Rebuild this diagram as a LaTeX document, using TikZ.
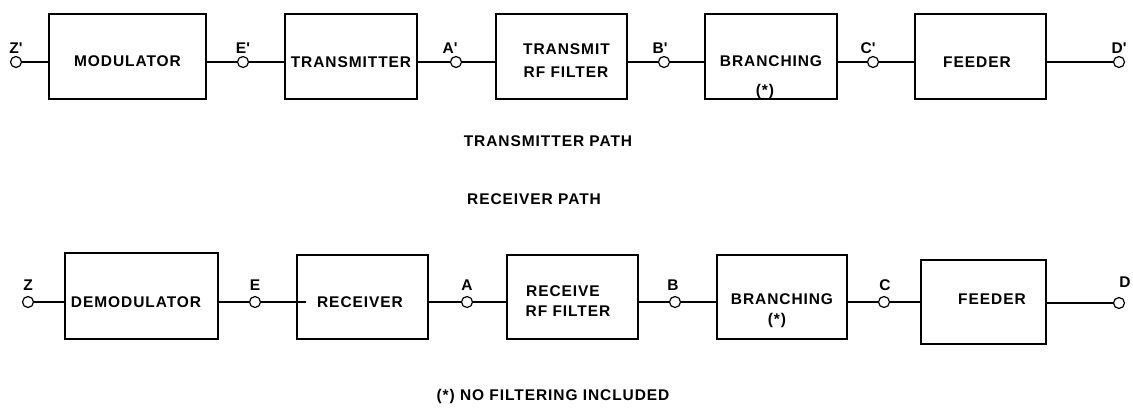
\documentclass[tikz,border=0pt]{standalone}
\usepackage{fontspec}
\setmainfont{Liberation Sans}[LetterSpace=6]
\newcommand{\apos}{\textquotesingle}
\begin{document}
\begin{tikzpicture}[x=1pt,y=-1pt,line width=1.2pt,
  blk/.style={draw,line width=1.2pt,inner sep=0pt},
  port/.style={draw,circle,fill=white,inner sep=0pt,minimum size=11pt,line width=1.2pt},
  txt/.style={inner sep=0pt,font=\fontsize{15.5}{19}\selectfont\bfseries},
  wire/.style={draw,line width=1.2pt}]
\useasboundingbox (0,0) rectangle (1133,410);
% ---------- transmitter path ----------
\node[blk,minimum width=157pt,minimum height=85pt] (mod) at (127.5,56.5) {};
\node[blk,minimum width=132pt,minimum height=85pt] (tx)  at (351,56.5) {};
\node[blk,minimum width=131pt,minimum height=85pt] (trf) at (561.5,56.5) {};
\node[blk,minimum width=132pt,minimum height=85pt] (br)  at (771,56.5) {};
\node[blk,minimum width=131pt,minimum height=85pt] (fd)  at (980.5,56.5) {};
\node[txt] (tmod) at (127.5,61.5) {MODULATOR};
\node[txt] (ttx)  at (351,62) {TRANSMITTER};
\node[txt] (ttrf1) at (566.5,49) {TRANSMIT};
\node[txt] (ttrf2) at (566,72.5) {RF FILTER};
\node[txt] (tbr)  at (771,61) {BRANCHING};
\node[txt] (tbrs) at (765,91) {(*)};
\node[txt] (tfd)  at (977,62) {FEEDER};
\node[port] (zp) at (16,62) {};
\node[port] (ep) at (243,62) {};
\node[port] (ap) at (456,62) {};
\node[port] (bp) at (664,62) {};
\node[port] (cp) at (873,62) {};
\node[port] (dp) at (1119,62) {};
\node[txt] (lzp) at (16,48) {Z\apos};
\node[txt] (lep) at (243,48) {E\apos};
\node[txt] (lap) at (450,48) {A\apos};
\node[txt] (lbp) at (660,48) {B\apos};
\node[txt] (lcp) at (868,48) {C\apos};
\node[txt] (ldp) at (1119,48) {D\apos};
\draw[wire] (zp) -- (zp -| mod.west);
\draw[wire] (mod.east |- ep) -- (ep);
\draw[wire] (ep) -- (ep -| tx.west);
\draw[wire] (tx.east |- ap) -- (ap);
\draw[wire] (ap) -- (ap -| trf.west);
\draw[wire] (trf.east |- bp) -- (bp);
\draw[wire] (bp) -- (bp -| br.west);
\draw[wire] (br.east |- cp) -- (cp);
\draw[wire] (cp) -- (cp -| fd.west);
\draw[wire] (fd.east |- dp) -- (dp);
% ---------- middle texts ----------
\node[txt] (tpath) at (548,141.5) {TRANSMITTER PATH};
\node[txt] (rpath) at (534,199.5) {RECEIVER PATH};
% ---------- receiver path ----------
\node[blk,minimum width=153pt,minimum height=86pt] (dem) at (141.5,296) {};
\node[blk,minimum width=131pt,minimum height=84pt] (rx)  at (362.5,297) {};
\node[blk,minimum width=131pt,minimum height=84pt] (rrf) at (572.5,297) {};
\node[blk,minimum width=130pt,minimum height=84pt] (br2) at (782,297) {};
\node[blk,minimum width=125pt,minimum height=84pt] (fd2) at (983.5,302) {};
\node[txt] (tdem) at (136,302.5) {DEMODULATOR};
\node[txt] (trx)  at (360,302) {RECEIVER};
\node[txt] (trrf1) at (563,291) {RECEIVE};
\node[txt] (trrf2) at (568,311.5) {RF FILTER};
\node[txt] (tbr2) at (782,299) {BRANCHING};
\node[txt] (tbr2s) at (777,320) {(*)};
\node[txt] (tfd2) at (992,299) {FEEDER};
\node[port] (z) at (28,302) {};
\node[port] (e) at (255,302) {};
\node[port] (a) at (467,302) {};
\node[port] (b) at (675,302) {};
\node[port] (c) at (884,302) {};
\node[port] (d) at (1119,303) {};
\node[txt] (lz) at (28,285) {Z};
\node[txt] (le) at (255,285) {E};
\node[txt] (la) at (467,285) {A};
\node[txt] (lb) at (673,285) {B};
\node[txt] (lc) at (885,285) {C};
\node[txt] (ld) at (1125,282) {D};
\coordinate (rxin) at ([xshift=10pt]e -| rx.west);
\draw[wire] (z) -- (z -| dem.west);
\draw[wire] (dem.east |- e) -- (e);
\draw[wire] (e) -- (rxin);
\draw[wire] (rx.east |- a) -- (a);
\draw[wire] (a) -- (a -| rrf.west);
\draw[wire] (rrf.east |- b) -- (b);
\draw[wire] (b) -- (b -| br2.west);
\draw[wire] (br2.east |- c) -- (c);
\draw[wire] (c) -- (c -| fd2.west);
\draw[wire] (fd2.east |- d) -- (d);
% ---------- note ----------
\node[txt] (note) at (553,396) {(*) NO FILTERING INCLUDED};
\end{tikzpicture}
\end{document}
